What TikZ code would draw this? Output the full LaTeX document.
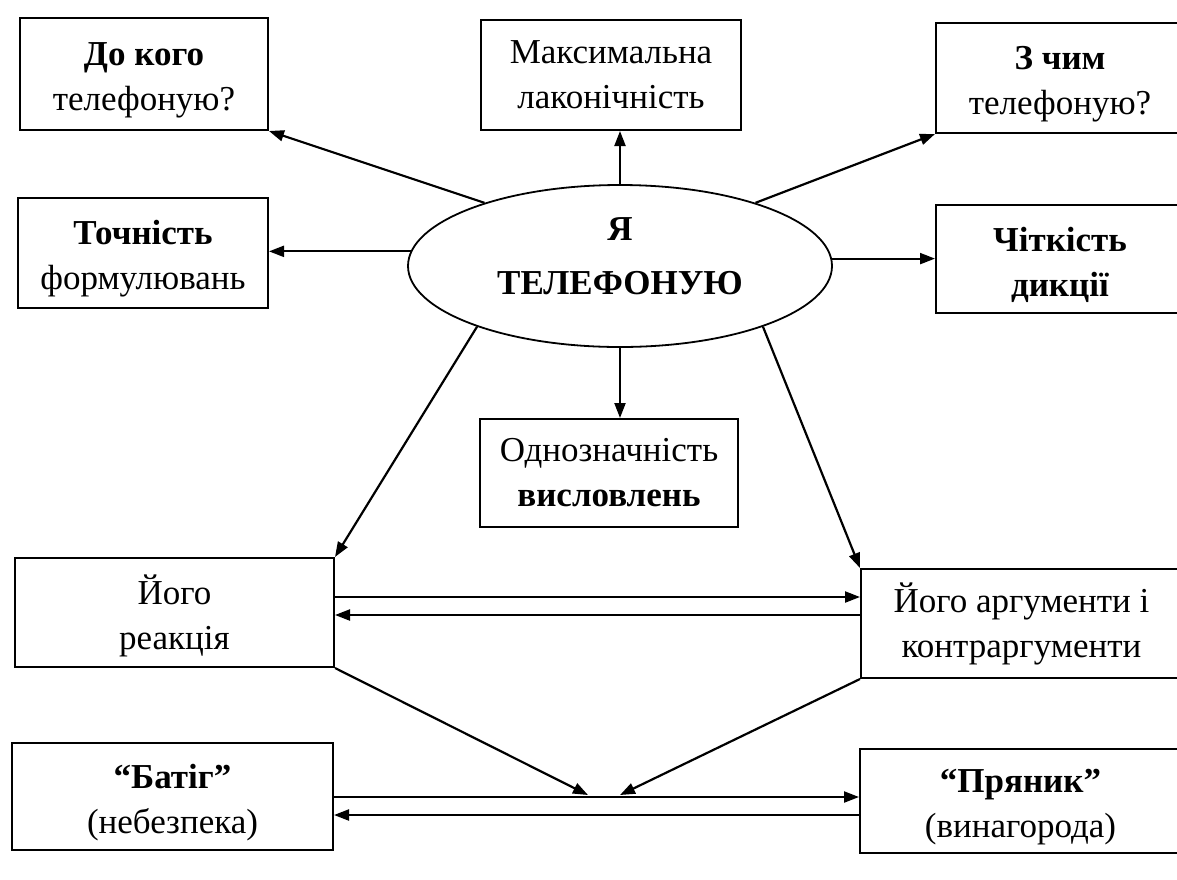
\documentclass[tikz,border=0pt]{standalone}
\usepackage{fontspec}
\setmainfont{Liberation Serif}
\usetikzlibrary{arrows.meta,shapes.geometric,calc}
\newcommand{\topstrut}{\rule{0pt}{36pt}}
\begin{document}
\begin{tikzpicture}[x=1pt,y=-1pt,
  box/.style={draw, line width=2pt, rectangle, inner sep=0pt, align=center,
    font=\fontsize{35}{45}\selectfont},
  arr/.style={line width=2.2pt, -{Triangle[length=15pt,width=11pt]}},
  oval/.style={draw, ellipse, line width=1.8pt, inner sep=0pt, align=center,
    font=\bfseries\fontsize{35}{54}\selectfont}]
\clip (0,0) rectangle (1177,879);
\fill[white] (0,0) rectangle (1177,879);

% top row
\node[box, minimum width=248pt, minimum height=112pt] (who) at (144,74)
  {\topstrut\textbf{До кого}\\телефоную?};
\node[box, minimum width=260pt, minimum height=110pt] (max) at (611,75)
  {Максимальна\\лаконічність};
\node[box, minimum width=248pt, minimum height=110pt] (with) at (1060,78)
  {\topstrut\textbf{З чим}\\телефоную?};

% second row
\node[box, minimum width=250pt, minimum height=110pt] (prec) at (143,253)
  {\topstrut\textbf{Точність}\\формулювань};
\node[oval, minimum width=424pt, minimum height=162pt] (me) at (620,266)
  {Я\\ТЕЛЕФОНУЮ\rule[-20pt]{0pt}{0pt}};
\node[box, minimum width=248pt, minimum height=108pt] (clar) at (1060,259)
  {\topstrut\textbf{Чіткість}\\\textbf{дикції}};

% middle
\node[box, minimum width=258pt, minimum height=108pt] (one) at (609,473)
  {Однозначність\\\textbf{висловлень}};
\node[box, minimum width=319pt, minimum height=109pt] (react) at (174.5,612.5)
  {\topstrut Його\\реакція};
\node[box, minimum width=321pt, minimum height=109pt] (args) at (1021.5,623.5)
  {Його аргументи і\\контраргументи};

% bottom
\node[box, minimum width=321pt, minimum height=107pt] (whip) at (172.5,796.5)
  {\topstrut\textbf{“Батіг”}\\(небезпека)};
\node[box, minimum width=321pt, minimum height=104pt] (cake) at (1020.5,801)
  {\topstrut\textbf{“Пряник”}\\(винагорода)};

% connectors from the ellipse
\draw[arr] (me.north) -- (me.north |- max.south);
\draw[arr] (me.south) -- (me.south |- one.north);
\draw[arr] (me.155) -- (who.south east);
\draw[arr] (me.25) -- (with.south west);
\draw[arr] (me.176) -- (me.176 -| prec.east);
\draw[arr] (me.2) -- (me.2 -| clar.west);
\draw[arr] (me.203) -- (react.north east);
\draw[arr] (me.337) -- (args.north west);

% reaction <-> arguments
\draw[arr] (react.east |- 0,597) -- (args.west |- 0,597);
\draw[arr] (args.west |- 0,615) -- (react.east |- 0,615);

% towards the lower line
\coordinate (tl) at (588,795);
\coordinate (tr) at (620,795);
\draw[arr] (react.south east) -- (tl);
\draw[arr] (args.south west) -- (tr);

% whip <-> gingerbread
\draw[arr] (whip.east |- 0,797) -- (cake.west |- 0,797);
\draw[arr] (cake.west |- 0,815) -- (whip.east |- 0,815);
\end{tikzpicture}
\end{document}
